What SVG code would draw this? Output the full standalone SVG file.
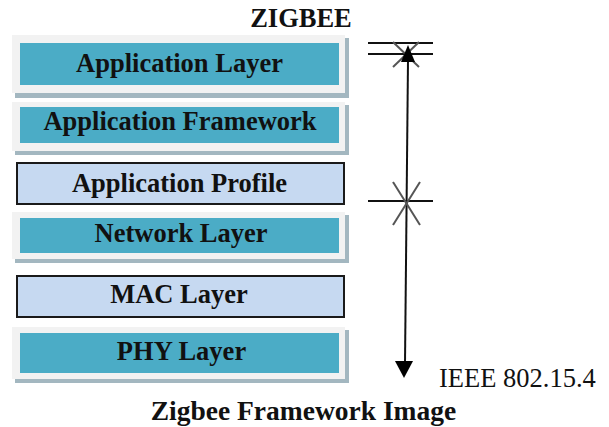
<svg xmlns="http://www.w3.org/2000/svg" width="609" height="427" viewBox="0 0 609 427">
<defs>
<style>
.shadow{fill:#a3b7c0}
.frame{fill:#f2f2f2}
.teal{fill:#4bacc6}
.light{fill:#c6d9f1;stroke:#1a1a1a;stroke-width:2}
.lbl{font-family:'Liberation Serif',Tinos,'DejaVu Serif',serif;font-weight:700;font-size:26.5px;fill:#111;text-anchor:middle}
.reg{font-family:'Liberation Serif',Tinos,'DejaVu Serif',serif;font-size:26.5px;fill:#111}
.ln{stroke:#111;stroke-width:2;fill:none}
.gl{stroke:#555;stroke-width:2;fill:none}
</style>
</defs>
<rect width="609" height="427" fill="#fff"/>
<text x="301" y="27" class="lbl">ZIGBEE</text>
<g id="app-layer">
<rect x="15" y="38" width="334" height="60" class="shadow"/>
<rect x="12" y="35" width="333" height="58" class="frame"/>
<rect x="20" y="43" width="319" height="42" class="teal"/>
<text x="179.5" y="72" class="lbl">Application Layer</text>
</g>
<g id="app-framework">
<rect x="15" y="105" width="334" height="50" class="shadow"/>
<rect x="12" y="102" width="333" height="49" class="frame"/>
<rect x="20" y="107" width="319" height="36" class="teal"/>
<text x="180" y="130" class="lbl">Application Framework</text>
</g>
<g id="app-profile">
<rect x="17" y="163" width="327" height="41" class="light"/>
<text x="179.5" y="192" class="lbl">Application Profile</text>
</g>
<g id="network-layer">
<rect x="15" y="215" width="334" height="48" class="shadow"/>
<rect x="12" y="212" width="333" height="47" class="frame"/>
<rect x="20" y="218" width="319" height="35" class="teal"/>
<text x="181" y="242" class="lbl">Network Layer</text>
</g>
<g id="mac-layer">
<rect x="17" y="276" width="327" height="41" class="light"/>
<text x="179" y="303" class="lbl">MAC Layer</text>
</g>
<g id="phy-layer">
<rect x="15" y="330" width="334" height="53" class="shadow"/>
<rect x="12" y="327" width="333" height="52" class="frame"/>
<rect x="20" y="333" width="319" height="40" class="teal"/>
<text x="181.5" y="360" class="lbl">PHY Layer</text>
</g>
<g id="connectors">
<line x1="368" y1="43" x2="433" y2="43" class="ln"/>
<line x1="368" y1="54" x2="433" y2="54" class="ln"/>
<line x1="393" y1="42" x2="419" y2="67" class="gl"/>
<line x1="419" y1="42" x2="393" y2="67" class="gl"/>
<line x1="408" y1="60" x2="405" y2="364" class="ln"/>
<polygon points="408,45 401,62 415,62" fill="#000"/>
<polygon points="395,361 413,361 404,378" fill="#000"/>
<line x1="368" y1="201" x2="433" y2="201" class="ln"/>
<line x1="393" y1="182" x2="420" y2="225" class="gl"/>
<line x1="420" y1="182" x2="393" y2="225" class="gl"/>
</g>
<text x="439" y="387" class="reg">IEEE 802.15.4</text>
<text x="303.5" y="420" class="lbl" style="font-size:27.5px">Zigbee Framework Image</text>
</svg>
